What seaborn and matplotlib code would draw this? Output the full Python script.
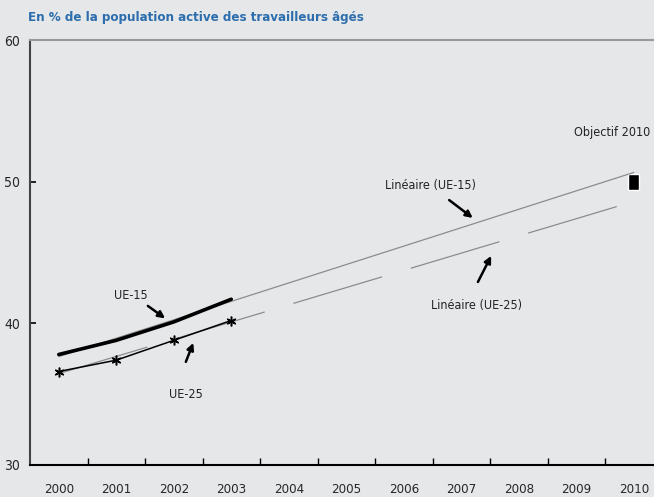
import numpy as np
import pandas as pd
import seaborn as sns
import matplotlib.pyplot as plt
from matplotlib import font_manager

# data
years = [2000, 2001, 2002, 2003, 2004, 2005, 2006, 2007, 2008, 2009, 2010]
obs_years = [2000, 2001, 2002, 2003]
ue15 = [37.8, 38.8, 40.1, 41.7]
ue25 = [36.6, 37.4, 38.8, 40.2]
trend_years = [2000, 2010]
trend_ue15 = [37.65, 50.65]
trend_ue25 = [36.45, 48.6]
target_year = 2010
target_value = 50.0

bg = "#e6e7e9"
blue = "#2b6dad"

sns.set_theme(style="white")
# look for a narrow family, the original uses a condensed face
fonts = font_manager.fontManager.ttflist
narrow = None
for f in fonts:
    if f.stretch in ("condensed", "semi-condensed", "extra-condensed") or "Narrow" in f.name \
            or "Condensed" in f.name:
        narrow = f
        break
if narrow is not None:
    plt.rcParams["font.family"] = [narrow.name, "DejaVu Sans"]
    plt.rcParams["font.stretch"] = narrow.stretch
    fs = 10
else:
    plt.rcParams["font.family"] = ["DejaVu Sans"]
    fs = 8.5

fig = plt.figure(figsize=(6.54, 4.97), dpi=100, facecolor=bg)
ax = fig.add_axes([30 / 654, 32 / 497, 632.5 / 654, 425 / 497])
ax.set_facecolor(bg)

pos = {y: i for i, y in enumerate(years)}

df15 = pd.DataFrame({"x": [pos[y] for y in obs_years], "v": ue15})
df25 = pd.DataFrame({"x": [pos[y] for y in obs_years], "v": ue25})
dt15 = pd.DataFrame({"x": [pos[y] for y in trend_years], "v": trend_ue15})
dt25 = pd.DataFrame({"x": [pos[y] for y in trend_years], "v": trend_ue25})

sns.lineplot(data=dt15, x="x", y="v", ax=ax, color="#8c8c8c", lw=0.9)
sns.lineplot(data=dt25, x="x", y="v", ax=ax, color="#8c8c8c", lw=0.9)
ax.lines[-1].set_linestyle((0, (74, 24)))
sns.lineplot(data=df15, x="x", y="v", ax=ax, color="black", lw=2.6)
sns.lineplot(data=df25, x="x", y="v", ax=ax, color="black", lw=1.1,
             marker=(6, 2, 0), markersize=7, markeredgecolor="black", markeredgewidth=1.1)

ax.bar(pos[target_year], 1.15, bottom=target_value - 0.575, width=0.19, color="black")

ax.set_xlim(-0.5, 10.5)
ax.set_ylim(30, 60)
ax.set_xticks(range(len(years)))
ax.set_xticklabels([str(y) for y in years])
ax.set_xticks(np.arange(0.5, 10, 1), minor=True)
ax.set_yticks([30, 40, 50, 60])
ax.tick_params(axis="x", which="major", length=0, pad=13, labelsize=fs - 0.5)
ax.tick_params(axis="x", which="minor", direction="in", length=5, width=1, color="black", bottom=True)
ax.tick_params(axis="y", which="major", direction="in", length=4, width=1.2, color="black",
               pad=7, labelsize=fs, left=True)
ax.set_xlabel("")
ax.set_ylabel("")

for s in ["left", "bottom", "top"]:
    ax.spines[s].set_visible(True)
ax.spines["right"].set_visible(False)
ax.spines["left"].set_color("#444444")
ax.spines["left"].set_linewidth(1.5)
ax.spines["bottom"].set_color("black")
ax.spines["bottom"].set_linewidth(1.5)
ax.spines["top"].set_color("#9a9a9a")
ax.spines["top"].set_linewidth(1.5)

arrow = dict(arrowstyle="-|>", color="black", lw=1.8, mutation_scale=10, shrinkA=0, shrinkB=0)
ax.annotate("", xy=(1.85, 40.35), xytext=(1.55, 41.23), arrowprops=arrow)
ax.annotate("", xy=(2.34, 38.62), xytext=(2.21, 37.28), arrowprops=arrow)
ax.annotate("", xy=(7.20, 47.44), xytext=(6.79, 48.7), arrowprops=arrow)
ax.annotate("", xy=(7.52, 44.76), xytext=(7.29, 42.92), arrowprops=arrow)

lab = dict(ha="center", va="center", fontsize=fs - 1, color="#222222")
ax.text(1.26, 41.93, "UE-15", **lab)
ax.text(2.21, 34.95, "UE-25", **lab)
ax.text(6.46, 49.7, "Linéaire (UE-15)", **lab)
ax.text(7.27, 41.23, "Linéaire (UE-25)", **lab)
ax.text(9.62, 53.44, "Objectif 2010", **lab)

fig.text(28 / 654, 1 - 18 / 497, "En % de la population active des travailleurs âgés",
         ha="left", va="center", fontsize=fs - 0.5, fontweight="bold", color=blue)

fig.savefig("out.png", dpi=100, facecolor=bg)
